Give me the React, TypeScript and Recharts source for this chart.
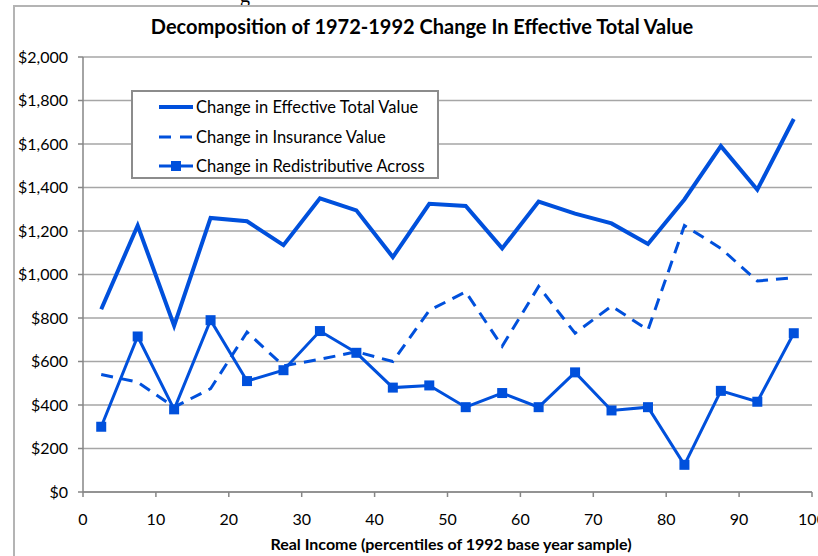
import React from 'react';
import { LineChart, Line, XAxis, YAxis, CartesianGrid } from 'recharts';

const percentiles = [2.5, 7.5, 12.5, 17.5, 22.5, 27.5, 32.5, 37.5, 42.5, 47.5, 52.5, 57.5, 62.5, 67.5, 72.5, 77.5, 82.5, 87.5, 92.5, 97.5];
const totalValue = [840, 1225, 765, 1260, 1245, 1135, 1350, 1295, 1080, 1325, 1315, 1120, 1335, 1280, 1235, 1140, 1345, 1590, 1390, 1715];
const insuranceValue = [540, 505, 390, 475, 735, 580, 610, 645, 600, 835, 920, 670, 945, 730, 855, 745, 1225, 1120, 970, 985];
const redistributive = [300, 715, 380, 790, 510, 560, 740, 640, 480, 490, 390, 455, 390, 550, 375, 390, 125, 465, 415, 730];

const xTicks = [0, 10, 20, 30, 40, 50, 60, 70, 80, 90, 100];
const yTicks = [0, 200, 400, 600, 800, 1000, 1200, 1400, 1600, 1800, 2000];

const seriesNames = ['Change in Effective Total Value', 'Change in Insurance Value', 'Change in Redistributive Across'];

const data = percentiles.map((p, i) => ({
  p,
  total: totalValue[i],
  insurance: insuranceValue[i],
  redist: redistributive[i],
}));

const BLUE = '#0050DC';
const FONT = 'Lato, "Open Sans", sans-serif';

const SquareDot = (props: any) => {
  const { cx, cy } = props;
  if (cx == null || cy == null) return null;
  return <rect x={cx - 5} y={cy - 5} width={10} height={10} fill={BLUE} />;
};

const LegendBox = () => (
  <div
    style={{
      position: 'absolute',
      left: 131,
      top: 90,
      width: 304,
      height: 85,
      border: '2px solid #8c8c8c',
      background: '#fff',
      fontFamily: FONT,
      fontSize: 16.5,
      color: '#000',
    }}
  >
    {seriesNames.map((name, i) => (
      <div key={name} style={{ position: 'absolute', left: 26, top: 4 + i * 29.5, height: 22, display: 'flex', alignItems: 'center', whiteSpace: 'nowrap' }}>
        <svg width={34} height={20} style={{ marginRight: 3 }}>
          {i === 0 && <line x1={0} y1={10} x2={34} y2={10} stroke={BLUE} strokeWidth={4} />}
          {i === 1 && <line x1={0} y1={10} x2={34} y2={10} stroke={BLUE} strokeWidth={3} strokeDasharray="12 9" />}
          {i === 2 && (
            <g>
              <line x1={0} y1={10} x2={34} y2={10} stroke={BLUE} strokeWidth={3} />
              <rect x={12} y={5} width={10} height={10} fill={BLUE} />
            </g>
          )}
        </svg>
        <span>{name}</span>
      </div>
    ))}
  </div>
);

export default function App() {
  return (
    <div style={{ position: 'absolute', left: 0, top: 0, width: 818, height: 556, overflow: 'hidden', background: '#fff' }}>
      <div style={{ position: 'absolute', left: 240, top: -16, fontFamily: 'serif', fontSize: 20, color: '#000' }}>g</div>
      <div style={{ position: 'absolute', left: 13, top: 5, width: 820, height: 570, border: '2px solid #b4b4b4', boxSizing: 'border-box' }} />
      <LineChart width={818} height={556} data={data} margin={{ top: 57, right: 6, bottom: 34, left: 13 }} style={{ position: 'absolute', left: 0, top: 0 }}>
        <CartesianGrid horizontal={true} vertical={false} stroke="#a6a6a6" strokeWidth={1.5} />
        <XAxis
          dataKey="p"
          type="number"
          domain={[0, 100]}
          ticks={xTicks}
          interval={0}
          height={30}
          tickSize={5}
          tickMargin={17}
          axisLine={{ stroke: '#868686', strokeWidth: 1.5 }}
          tickLine={{ stroke: '#868686', strokeWidth: 1.5 }}
          tick={{ fill: '#000', fontSize: 16, fontFamily: FONT }}
        />
        <YAxis
          type="number"
          domain={[0, 2000]}
          ticks={yTicks}
          interval={0}
          width={70}
          tickSize={5}
          tickMargin={10}
          tickFormatter={(v: number) => `$${v.toLocaleString('en-US')}`}
          axisLine={{ stroke: '#868686', strokeWidth: 1.5 }}
          tickLine={{ stroke: '#868686', strokeWidth: 1.5 }}
          tick={{ fill: '#000', fontSize: 16, fontFamily: FONT }}
        />
        <Line type="linear" dataKey="total" name={seriesNames[0]} stroke={BLUE} strokeWidth={4} dot={false} isAnimationActive={false} />
        <Line type="linear" dataKey="insurance" name={seriesNames[1]} stroke={BLUE} strokeWidth={3} strokeDasharray="12 8" dot={false} isAnimationActive={false} />
        <Line type="linear" dataKey="redist" name={seriesNames[2]} stroke={BLUE} strokeWidth={3} dot={<SquareDot />} isAnimationActive={false} />
      </LineChart>
      <LegendBox />
      <div style={{ position: 'absolute', left: 0, width: 844, top: 14, textAlign: 'center', fontFamily: FONT, fontWeight: 'bold', fontSize: 20, color: '#000', whiteSpace: 'nowrap' }}>
        Decomposition of 1972-1992 Change In Effective Total Value
      </div>
      <div style={{ position: 'absolute', left: 0, width: 902, top: 534, textAlign: 'center', fontFamily: FONT, fontWeight: 'bold', fontSize: 16, color: '#000', whiteSpace: 'nowrap' }}>
        Real Income (percentiles of 1992 base year sample)
      </div>
    </div>
  );
}
